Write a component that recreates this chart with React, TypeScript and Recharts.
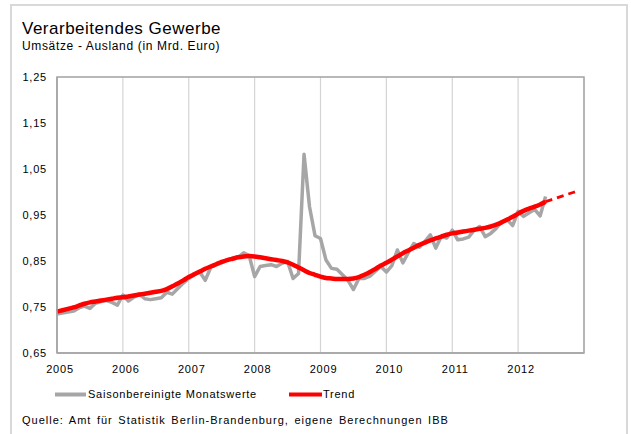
import React from 'react';
import { LineChart, Line, XAxis, YAxis, CartesianGrid, ReferenceArea } from 'recharts';

const yearLabels = ['2005', '2006', '2007', '2008', '2009', '2010', '2011', '2012'];
const yTicks = [0.65, 0.75, 0.85, 0.95, 1.05, 1.15, 1.25];

// Saisonbereinigte Monatswerte, Jan 2005 .. Jun 2012
const monthlyValues = [
  0.735, 0.737, 0.739, 0.741, 0.748, 0.752, 0.747, 0.758, 0.762, 0.764, 0.760, 0.754,
  0.776, 0.763, 0.771, 0.778, 0.768, 0.766, 0.768, 0.770, 0.782, 0.778, 0.790, 0.802,
  0.812, 0.820, 0.826, 0.808, 0.836, 0.842, 0.846, 0.852, 0.856, 0.858, 0.868, 0.862,
  0.816, 0.838, 0.840, 0.842, 0.838, 0.845, 0.849, 0.812, 0.823, 1.082, 0.968, 0.905,
  0.899, 0.852, 0.834, 0.832, 0.820, 0.808, 0.788, 0.812, 0.812, 0.817, 0.828, 0.838,
  0.826, 0.840, 0.874, 0.846, 0.868, 0.888, 0.880, 0.892, 0.907, 0.878, 0.903, 0.900,
  0.917, 0.896, 0.898, 0.902, 0.917, 0.925, 0.903, 0.910, 0.921, 0.935, 0.940, 0.927,
  0.958, 0.947, 0.955, 0.962, 0.948, 0.990,
];

// Trend, Jan 2005 .. Jun 2012
const trendValues = [
  0.740, 0.743, 0.746, 0.749, 0.753, 0.757, 0.760, 0.762, 0.764, 0.766, 0.768, 0.770,
  0.771, 0.773, 0.775, 0.777, 0.779, 0.781, 0.783, 0.785, 0.789, 0.795, 0.801, 0.808,
  0.815, 0.821, 0.827, 0.833, 0.838, 0.843, 0.848, 0.852, 0.855, 0.858, 0.860, 0.861,
  0.860, 0.858, 0.856, 0.854, 0.852, 0.850, 0.847, 0.842, 0.836, 0.830, 0.824, 0.820,
  0.816, 0.813, 0.812, 0.811, 0.811, 0.811, 0.812, 0.815, 0.820, 0.826, 0.833, 0.840,
  0.846, 0.853, 0.860, 0.867, 0.873, 0.879, 0.885, 0.890, 0.895, 0.899, 0.903, 0.907,
  0.910, 0.912, 0.914, 0.916, 0.918, 0.920, 0.922, 0.925, 0.929, 0.934, 0.940, 0.946,
  0.953, 0.959, 0.964, 0.968, 0.973, 0.979,
];

// Trend projection, Jun 2012 .. Dec 2012 (dashed)
const trendForecast = [0.979, 0.983, 0.987, 0.991, 0.995, 0.999, 1.003];
const forecastStart = 89;

const data = Array.from({ length: 96 }, (_, i) => ({
  m: i,
  sa: i < monthlyValues.length ? monthlyValues[i] : null,
  trend: i < trendValues.length ? trendValues[i] : null,
  forecast: i >= forecastStart ? trendForecast[i - forecastStart] : null,
}));

const xTicks = yearLabels.map((_, i) => i * 12);
const FONT = '"Liberation Sans", Arial, sans-serif';
const fmt = (v: number) => v.toFixed(2).replace('.', ',');

export default function App() {
  return (
    <div style={{ position: 'absolute', left: 0, top: 0, width: 631, height: 434, overflow: 'hidden', background: '#fff', fontFamily: FONT }}>
      <div style={{ position: 'absolute', left: 10, top: 4, width: 618, height: 440, border: '2px solid #d9d9d9', boxSizing: 'border-box' }} />
      <div style={{ position: 'absolute', left: 22, top: 20, fontSize: 17, lineHeight: '17px', letterSpacing: 0.5, color: '#000', whiteSpace: 'nowrap' }}>
        Verarbeitendes Gewerbe
      </div>
      <div style={{ position: 'absolute', left: 22, top: 40, fontSize: 12, lineHeight: '12px', letterSpacing: 0.65, color: '#000', whiteSpace: 'nowrap' }}>
        Umsätze - Ausland (in Mrd. Euro)
      </div>
      <div style={{ position: 'absolute', left: 0, top: 0 }}>
        <LineChart width={631} height={434} data={data} margin={{ top: 77, right: 10, bottom: 51, left: 10 }}>
          <CartesianGrid vertical={false} stroke="#dedede" strokeWidth={1.2} />
          <CartesianGrid horizontal={false} stroke="#d4d4d4" strokeWidth={1.2} />
          <XAxis
            dataKey="m"
            type="number"
            domain={[0, 96]}
            ticks={xTicks}
            tickFormatter={(v: number) => yearLabels[v / 12]}
            axisLine={{ stroke: '#a6a6a6', strokeWidth: 1.5 }}
            tickLine={false}
            tickMargin={6}
            height={30}
            dx={3}
            tick={{ fill: '#000', fontSize: 11, fontFamily: FONT, letterSpacing: 0.8 }}
          />
          <YAxis
            yAxisId="l"
            orientation="left"
            domain={[0.65, 1.25]}
            ticks={yTicks}
            tickFormatter={fmt}
            axisLine={{ stroke: '#a6a6a6', strokeWidth: 1.5 }}
            tickLine={false}
            tickMargin={4}
            width={47}
            tick={{ fill: '#000', fontSize: 11, fontFamily: FONT, letterSpacing: 0.8 }}
          />
          <YAxis
            yAxisId="r"
            orientation="right"
            domain={[0.65, 1.25]}
            ticks={yTicks}
            tickFormatter={fmt}
            axisLine={false}
            tickLine={false}
            tickMargin={7}
            width={37}
            tick={{ fill: '#000', fontSize: 11, fontFamily: FONT, letterSpacing: 0.8 }}
          />
          <ReferenceArea yAxisId="l" x1={0} x2={96} y1={0.65} y2={1.25} fill="none" stroke="#a6a6a6" strokeWidth={1.5} />
          <Line yAxisId="l" type="linear" dataKey="sa" stroke="#a6a6a6" strokeWidth={3.5} dot={false} isAnimationActive={false} connectNulls={false} strokeLinejoin="round" />
          <Line yAxisId="l" type="monotone" dataKey="trend" stroke="#ff0000" strokeWidth={4.5} dot={false} isAnimationActive={false} strokeLinejoin="round" />
          <Line yAxisId="l" type="linear" dataKey="forecast" stroke="#ff0000" strokeWidth={2.8} strokeDasharray="7 5" dot={false} isAnimationActive={false} />
        </LineChart>
      </div>
      <svg style={{ position: 'absolute', left: 0, top: 0 }} width={631} height={434}>
        <line x1={55} x2={86} y1={394.5} y2={394.5} stroke="#a6a6a6" strokeWidth={4} />
        <line x1={289} x2={322} y1={394.5} y2={394.5} stroke="#ff0000" strokeWidth={4} />
      </svg>
      <div style={{ position: 'absolute', left: 88, top: 388.6, fontSize: 11, lineHeight: '11px', letterSpacing: 0.75, whiteSpace: 'nowrap' }}>
        Saisonbereinigte Monatswerte
      </div>
      <div style={{ position: 'absolute', left: 323, top: 388.6, fontSize: 11, lineHeight: '11px', letterSpacing: 0.75, whiteSpace: 'nowrap' }}>
        Trend
      </div>
      <div style={{ position: 'absolute', left: 22, top: 414.7, fontSize: 11, lineHeight: '11px', letterSpacing: 1.0, wordSpacing: 1.5, whiteSpace: 'nowrap' }}>
        Quelle: Amt für Statistik Berlin-Brandenburg, eigene Berechnungen IBB
      </div>
    </div>
  );
}
